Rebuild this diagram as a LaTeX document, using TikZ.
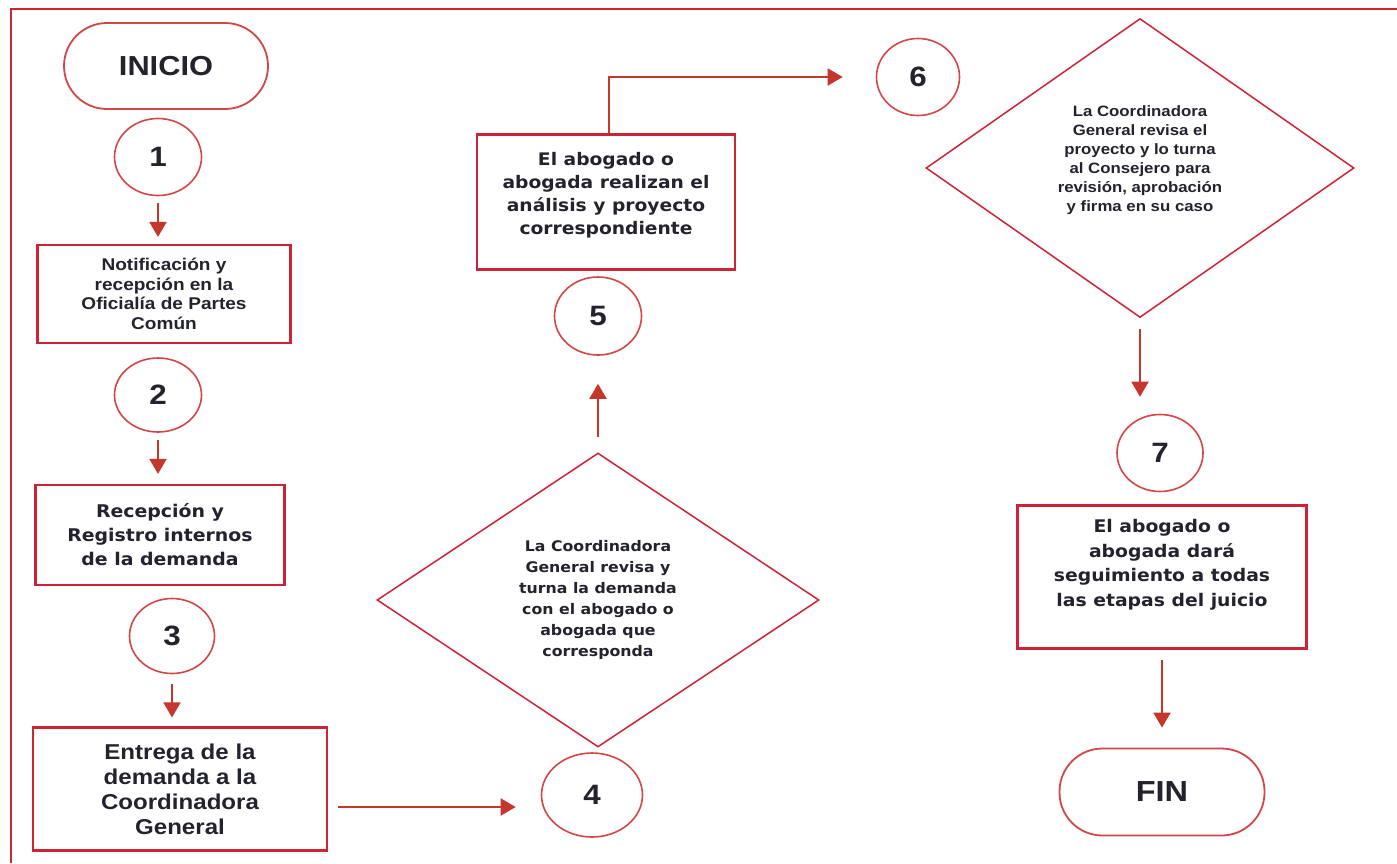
\documentclass[tikz,border=0pt]{standalone}
\usepackage{fontspec}
\setmainfont{Liberation Sans}[FakeStretch=1.12]
\newfontfamily\verd{DejaVu Sans}[FakeStretch=1.08]
\usetikzlibrary{shapes.geometric,arrows.meta,calc}
\definecolor{frameRed}{RGB}{200,40,50}
\definecolor{boxRed}{RGB}{205,35,55}
\definecolor{circRed}{RGB}{210,70,70}
\definecolor{arrRed}{RGB}{195,55,45}
\definecolor{txtc}{RGB}{35,35,45}
\newcommand\fsz[2]{\fontsize{#1}{#2}\selectfont}
\begin{document}
\begin{tikzpicture}[x=1pt,y=-1pt,
  every node/.style={text=txtc},
  box/.style={draw=boxRed, line width=2.2pt, rectangle, inner sep=0pt, align=center},
  txt/.style={inner sep=0pt, align=center},
  numc/.style={draw=circRed, line width=1.6pt, ellipse, inner sep=0pt, font=\bfseries\fsz{28}{30}},
  term/.style={draw=circRed, line width=1.8pt, rectangle, rounded corners=43pt, inner sep=0pt},
  dec/.style={draw=boxRed, line width=1.5pt, diamond, inner sep=0pt, align=center},
  arr/.style={draw=arrRed, line width=2pt, -{Triangle[width=17pt,length=15pt]}}
]
\useasboundingbox (0,0) rectangle (1397,863);
\fill[white] (0,0) rectangle (1397,863);
\draw[frameRed, line width=2pt] (11,863) -- (11,9) -- (1397,9);

% left column
\node[term, minimum width=204pt, minimum height=86pt, font=\bfseries\fsz{27.5}{30}] (inicio) at (166,66) {INICIO};
\node[numc, minimum width=87pt, minimum height=77pt] (c1) at (158,157) {1};
\node[box, minimum width=253pt, minimum height=98pt, font=\bfseries\fsz{17}{19.5}] (b1) at (164,294) {Notificación y\\recepción en la\\Oficialía de Partes\\Común};
\node[numc, minimum width=87pt, minimum height=74pt] (c2) at (158,395) {2};
\node[box, minimum width=249pt, minimum height=100pt, font=\verd\bfseries\fsz{17.5}{24}] (b2) at (160,535) {Recepción y\\Registro internos\\de la demanda};
\node[numc, minimum width=85pt, minimum height=75pt] (c3) at (172,636) {3};
\node[box, minimum width=294pt, minimum height=123pt, font=\bfseries\fsz{21.5}{25}] (b3) at (180,789) {Entrega de la\\demanda a la\\Coordinadora\\General};

% middle column
\node[numc, minimum width=101pt, minimum height=84pt] (c4) at (592,795) {4};
\node[dec, minimum width=442pt, minimum height=294pt, font=\verd\bfseries\fsz{14.6}{21}] (d4) at (598,600) {La Coordinadora\\General revisa y\\turna la demanda\\con el abogado o\\abogada que\\corresponda};
\node[numc, minimum width=87pt, minimum height=78pt] (c5) at (598,316) {5};
\node[box, minimum width=258pt, minimum height=135pt] (b5) at (606,202) {};
\node[txt, font=\verd\bfseries\fsz{17.3}{23}] (b5t) at (606,195) {El abogado o\\abogada realizan el\\análisis y proyecto\\correspondiente};

% right column
\node[numc, minimum width=83pt, minimum height=77pt] (c6) at (918,77) {6};
\node[dec, minimum width=428pt, minimum height=299pt] (d6) at (1140,168) {};
\node[txt, font=\bfseries\fsz{15}{19}] (d6t) at (1140,160) {La Coordinadora\\General revisa el\\proyecto y lo turna\\al Consejero para\\revisión, aprobación\\y firma en su caso};
\node[numc, minimum width=86pt, minimum height=77pt] (c7) at (1160,453) {7};
\node[box, minimum width=289pt, minimum height=143pt] (b7) at (1162,577) {};
\node[txt, font=\verd\bfseries\fsz{17.4}{24.5}] (b7t) at (1162,565) {El abogado o\\abogada dará\\seguimiento a todas\\las etapas del juicio};
\node[term, minimum width=205pt, minimum height=87pt, font=\bfseries\fsz{29}{30}] (fin) at (1162,792) {FIN};

% connectors
\draw[arr, shorten <=7pt, shorten >=7pt] (c1.south) -- (c1.south |- b1.north);
\draw[arr, shorten <=7pt, shorten >=10pt] (c2.south) -- (c2.south |- b2.north);
\draw[arr, shorten <=10pt, shorten >=9pt] (c3.south) -- (c3.south |- b3.north);
\coordinate (e3) at ($(b3.east)+(0,18)$);
\draw[arr, shorten <=10pt, shorten >=25pt] (e3) -- (e3 -| c4.west);
\draw[arr, shorten <=15pt, shorten >=28pt] (d4.north) -- (d4.north |- c5.south);
\coordinate (n5) at ($(b5.north)+(3,0)$);
\draw[arr, shorten >=33pt] (n5) |- (c6.west);
\draw[arr, shorten <=11pt, shorten >=17pt] (d6.south) -- (d6.south |- c7.north);
\draw[arr, shorten <=10pt, shorten >=20pt] (b7.south) -- (b7.south |- fin.north);
\end{tikzpicture}
\end{document}
